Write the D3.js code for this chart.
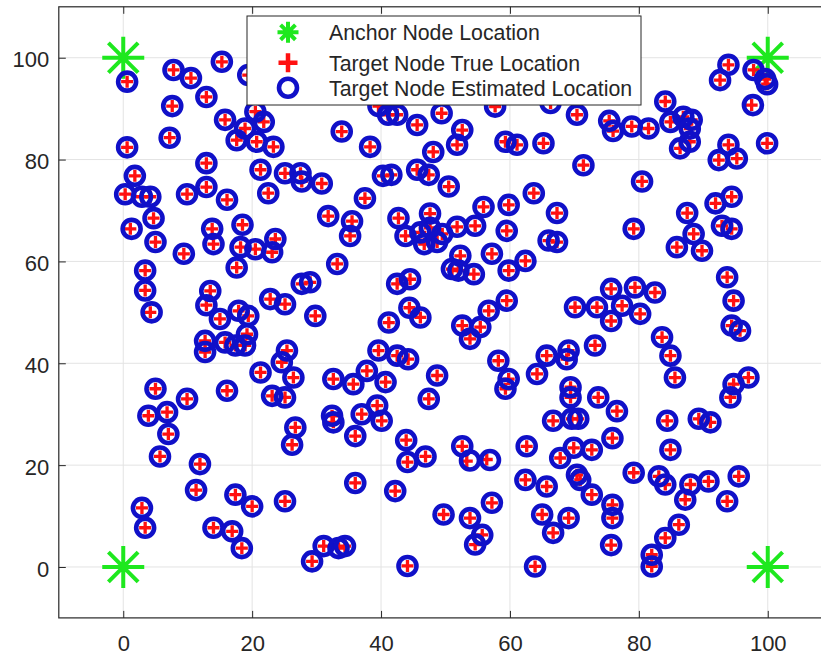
<!DOCTYPE html>
<html>
<head>
<meta charset="utf-8">
<script src="https://cdn.jsdelivr.net/npm/d3@7/dist/d3.min.js"></script>
<style>
  body { margin: 0; background: #fff; }
  svg { display: block; font-family: "Liberation Sans", Arial, Helvetica, sans-serif; }
</style>
</head>
<body>
<div id="chart"></div>
<script>
const width = 821;
const height = 657;

// anchor nodes
const anchors = [[0, 0], [0, 100], [100, 0], [100, 100]];

// target node true locations
const trueLoc = [
  [0.6,95.3],[7.8,97.6],[10.5,96],[7.6,90.5],[7.2,84.3],[0.6,82.4],[1.8,76.8],[0.3,73.2],[2.9,72.7],[4.2,72.7],
  [9.9,73.2],[4.7,68.5],[15.3,99.2],[19.4,96.6],[12.9,92.3],[15.8,87.8],[20.5,89.4],[21.8,87.4],[18.9,86.1],[17.6,83.8],
  [20.7,83.5],[23.3,82.5],[12.9,79.3],[21.3,78],[25.1,77.3],[27.5,77.3],[27.7,75.7],[30.8,75.3],[12.9,74.6],[16.1,72.1],
  [22.5,73.4],[37.5,72.4],[33.9,85.5],[38.3,82.5],[40.3,76.8],[41.6,77],[42.7,68.5],[31.8,68.9],[35.5,67.9],[35.2,65],
  [39.6,90.5],[41.1,88.8],[42.5,88.8],[45.6,86.8],[49.4,89.1],[52.6,85.8],[51.8,82.9],[48.1,81.5],[45.6,78],[47.4,77],
  [50.5,74.7],[59.3,83.5],[61.1,82.9],[65.2,83.2],[70.4,88.8],[75.4,87.6],[76,85.6],[71.4,78.9],[63.7,73.4],[55.9,70.7],
  [59.8,71.1],[67.3,69.5],[47.6,69.4],[57.7,90.4],[66.3,91.1],[93.9,98.6],[92.6,95.6],[97.8,97.6],[99.6,95.8],[99.9,94.8],
  [97.5,90.7],[84.1,91.4],[78.9,86.5],[81.5,86.1],[84.9,87.4],[86.9,88.4],[88.2,87.8],[87.9,86.1],[86.4,82.2],[87.9,83.5],
  [93.9,82.9],[92.4,79.9],[95.2,80.2],[99.9,83.2],[80.5,75.7],[91.9,71.4],[94.4,72.7],[1.1,66.4],[5,63.8],[9.4,61.5],
  [3.4,58.2],[3.4,54.3],[4.2,50],[12.7,44.4],[12.7,42.2],[13.5,54.2],[12.9,51.4],[5,35],[9.9,33],[3.9,29.7],
  [6.8,30.4],[7,26.1],[13.8,66.4],[18.5,67.2],[14,63.4],[18.2,62.8],[20.5,62.4],[23.6,64.4],[23.1,61.8],[17.6,58.8],
  [33.2,59.5],[27.7,55.6],[29,55.9],[22.8,52.6],[25.1,51.6],[29.8,49.3],[42.5,55.6],[44.5,56.5],[44.4,50.9],[41.2,48],
  [15,48.7],[17.9,50.3],[19.4,49.3],[19.2,45.7],[15.8,44.1],[17.4,43.5],[18.9,43.5],[25.4,42.5],[24.6,40.2],[21.3,38.2],
  [26.4,37.2],[23.1,33.6],[25.1,33.3],[16.1,34.6],[32.6,36.9],[35.7,35.9],[37.8,38.5],[39.6,42.5],[42.5,41.5],[44.2,40.8],
  [40.7,36.3],[26.7,27.4],[32.4,29.7],[32.6,28.4],[37,30],[39.4,31.7],[40.1,28.7],[36,25.7],[43.9,24.9],[43.8,65],
  [46.1,65.7],[47.6,66.6],[49.5,65.4],[46.7,63.4],[48.7,63.8],[51.8,66.8],[54.6,67],[59.5,66],[66,64.1],[67.3,63.8],
  [57.2,61.5],[52.3,61.1],[51,58.5],[52,58.2],[54.4,57.5],[59.8,58.2],[62.4,60.1],[46.1,49],[56.7,50.3],[59.5,52.3],
  [52.6,47.4],[55.4,47.1],[53.8,44.8],[58.2,40.5],[59.8,36.9],[59.3,35],[48.7,37.6],[47.4,33],[64.2,37.9],[65.7,41.5],
  [69.1,42.5],[68.8,40.8],[73.2,43.5],[70.1,51],[73.5,51],[69.4,35.3],[69.4,33.3],[73.7,33.3],[66.7,28.7],[69.6,29.1],
  [70.6,29.1],[79.2,66.4],[87.5,69.5],[88.5,65.4],[85.9,62.8],[89.8,62.1],[92.9,67],[94.4,66.4],[75.7,54.6],[79.4,54.9],
  [82.5,53.9],[77.4,51.3],[80.2,49.7],[75.7,48.3],[93.7,56.9],[94.7,52.3],[94.4,47.4],[95.7,46.4],[83.6,45.1],[84.9,41.5],
  [85.6,37.2],[97,37.2],[94.7,35.9],[94.2,33.3],[76.6,30.6],[84.4,28.7],[89.3,29.1],[91.1,28.4],[5.7,21.7],[2.9,11.6],
  [3.4,7.7],[11.9,20.2],[11.3,15.1],[17.4,14.2],[20,11.9],[25.1,12.9],[14,7.7],[16.9,7],[18.4,3.7],[26.2,24],
  [36,16.5],[42.2,14.9],[29.3,1.1],[31.1,4.1],[33.4,3.7],[34.4,4.1],[44.1,0.2],[44.1,20.6],[46.9,21.7],[52.6,23.7],
  [53.3,20.8],[56.4,21.1],[57.2,12.6],[49.7,10.3],[53.8,9.6],[55.7,6.3],[54.6,4.4],[63.9,0.1],[62.4,17.1],[65.7,15.8],
  [65,10.3],[69.1,9.6],[66.7,6.7],[62.6,23.7],[67.8,21.4],[69.9,23.4],[72.7,23],[70.4,18.1],[70.9,17.1],[72.7,14.2],
  [75.9,25.3],[75.9,12.2],[75.9,9.6],[75.7,4.3],[84.9,23],[79.2,18.5],[83.1,17.8],[84.1,16.2],[88,16.2],[87.2,13.2],
  [90.8,16.8],[95.5,17.8],[93.7,12.9],[86.2,8.3],[84.1,5.7],[82,2.4],[82,0.1]
];

// target node estimated locations
const estLoc = [
  [0.6,95.3],[7.8,97.6],[10.5,96],[7.6,90.5],[7.2,84.3],[0.6,82.4],[1.8,76.8],[0.3,73.2],[2.9,72.7],[4.2,72.7],
  [9.9,73.2],[4.7,68.5],[15.3,99.2],[19.4,96.6],[12.9,92.3],[15.8,87.8],[20.5,89.4],[21.8,87.4],[18.9,86.1],[17.6,83.8],
  [20.7,83.5],[23.3,82.5],[12.9,79.3],[21.3,78],[25.1,77.3],[27.5,77.3],[27.7,75.7],[30.8,75.3],[12.9,74.6],[16.1,72.1],
  [22.5,73.4],[37.5,72.4],[33.9,85.5],[38.3,82.5],[40.3,76.8],[41.6,77],[42.7,68.5],[31.8,68.9],[35.5,67.9],[35.2,65],
  [39.6,90.5],[41.1,88.8],[42.5,88.8],[45.6,86.8],[49.4,89.1],[52.6,85.8],[51.8,82.9],[48.1,81.5],[45.6,78],[47.4,77],
  [50.5,74.7],[59.3,83.5],[61.1,82.9],[65.2,83.2],[70.4,88.8],[75.4,87.6],[76,85.6],[71.4,78.9],[63.7,73.4],[55.9,70.7],
  [59.8,71.1],[67.3,69.5],[47.6,69.4],[57.7,90.4],[66.3,91.1],[93.9,98.6],[92.6,95.6],[97.8,97.6],[99.6,95.8],[99.9,94.8],
  [97.7,90.7],[84.1,91.4],[78.9,86.5],[81.5,86.1],[84.9,87.4],[86.9,88.4],[88.2,87.8],[87.9,86.1],[86.4,82.2],[87.9,83.5],
  [93.9,82.9],[92.4,79.9],[95.2,80.2],[99.9,83.2],[80.5,75.7],[91.9,71.4],[94.4,72.7],[1.3,66.4],[5,63.8],[9.4,61.5],
  [3.4,58.2],[3.4,54.3],[4.4,50],[12.7,44.4],[12.7,42.2],[13.5,54.2],[12.9,51.4],[5,35],[9.9,33],[3.9,29.7],
  [6.8,30.4],[7,26.1],[13.8,66.4],[18.5,67.2],[14,63.4],[18.2,62.8],[20.5,62.4],[23.6,64.4],[23.1,61.8],[17.6,58.8],
  [33.2,59.5],[27.7,55.6],[29,55.9],[22.8,52.6],[25.1,51.6],[29.8,49.3],[42.5,55.6],[44.5,56.5],[44.4,50.9],[41.2,48],
  [15,48.7],[17.9,50.3],[19.4,49.3],[19.2,45.7],[15.8,44.1],[17.4,43.5],[18.9,43.5],[25.4,42.5],[24.6,40.2],[21.3,38.2],
  [26.4,37.2],[23.1,33.6],[25.1,33.3],[16.1,34.6],[32.6,36.9],[35.7,35.9],[37.8,38.5],[39.6,42.5],[42.5,41.5],[44.2,40.8],
  [40.7,36.3],[26.7,27.4],[32.4,29.7],[32.6,28.4],[37,30],[39.4,31.7],[40.1,28.7],[36,25.7],[43.9,24.9],[43.8,65],
  [46.1,65.7],[47.6,66.6],[49.5,65.4],[46.7,63.4],[48.7,63.8],[51.8,66.8],[54.6,67],[59.5,66],[66,64.1],[67.3,63.8],
  [57.2,61.5],[52.3,61.1],[51,58.5],[52,58.2],[54.4,57.5],[59.8,58.2],[62.4,60.1],[46.1,49],[56.7,50.3],[59.5,52.3],
  [52.6,47.4],[55.4,47.1],[53.8,44.8],[58.2,40.5],[59.8,36.9],[59.3,35],[48.7,37.6],[47.4,33],[64.2,37.9],[65.7,41.5],
  [69.1,42.5],[68.8,40.8],[73.2,43.5],[70.1,51],[73.5,51],[69.4,35.3],[69.4,33.3],[73.7,33.3],[66.7,28.7],[69.6,29.1],
  [70.6,29.1],[79.2,66.4],[87.5,69.5],[88.5,65.4],[85.9,62.8],[89.8,62.1],[92.9,67],[94.4,66.4],[75.7,54.6],[79.4,54.9],
  [82.5,53.9],[77.4,51.3],[80.2,49.7],[75.7,48.3],[93.7,56.9],[94.7,52.3],[94.4,47.4],[95.7,46.4],[83.6,45.1],[84.9,41.5],
  [85.6,37.2],[97,37.2],[94.7,35.9],[94.2,33.3],[76.6,30.6],[84.4,28.7],[89.3,29.1],[91.1,28.4],[5.7,21.7],[2.9,11.6],
  [3.4,7.7],[11.9,20.2],[11.3,15.1],[17.4,14.2],[20,11.9],[25.1,12.9],[14,7.7],[16.9,7],[18.4,3.7],[26.2,24],
  [36,16.5],[42.2,14.9],[29.3,1.1],[31.1,4.1],[33.4,3.7],[34.4,4.1],[44.1,0.2],[44.1,20.6],[46.9,21.7],[52.6,23.7],
  [53.8,20.9],[56.9,21],[57.2,12.6],[49.7,10.3],[53.8,9.6],[55.7,6.3],[54.6,4.4],[63.9,0.1],[62.4,17.1],[65.7,15.8],
  [65,10.3],[69.1,9.6],[66.7,6.7],[62.6,23.7],[67.8,21.4],[69.9,23.4],[72.7,23],[70.4,18.1],[70.9,17.1],[72.7,14.2],
  [75.9,25.3],[75.9,12.2],[75.9,9.6],[75.7,4.3],[84.9,23],[79.2,18.5],[83.1,17.8],[84.1,16.2],[88,16.2],[87.2,13.2],
  [90.8,16.8],[95.5,17.8],[93.7,12.9],[86.2,8.3],[84.1,5.7],[82,2.4],[82,0.1]
];

const xTicks = [0, 20, 40, 60, 80, 100];
const yTicks = [0, 20, 40, 60, 80, 100];
const legendLabels = ['Anchor Node Location', 'Target Node True Location', 'Target Node Estimated Location'];

const axisColor = '#262626';
const gridColor = '#e3e3e3';
const green = '#1ee81e';
const red = '#ff1010';
const blue = '#1010c8';

// 画布
let svg = d3.select('#chart').append('svg')
  .attr('width', width)
  .attr('height', height);
svg.append('rect').attr('width', width).attr('height', height).attr('fill', '#fff');

// 比例尺 (right edge of the axes box falls outside the picture)
let x = d3.scaleLinear().domain([-10, 110]).range([58.8, 832.2]);
let y = d3.scaleLinear().domain([-10, 110]).range([617.9, 6.8]);

// 网格
let grid = svg.append('g');
grid.selectAll('line.gx').data(xTicks).join('line')
  .attr('x1', d => x(d)).attr('x2', d => x(d))
  .attr('y1', y(110)).attr('y2', y(-10))
  .attr('stroke', gridColor).attr('stroke-width', 1);
grid.selectAll('line.gy').data(yTicks).join('line')
  .attr('y1', d => y(d)).attr('y2', d => y(d))
  .attr('x1', x(-10)).attr('x2', x(110))
  .attr('stroke', gridColor).attr('stroke-width', 1);

// 坐标轴
let xAxis = svg.append('g')
  .attr('transform', `translate(0,${y(-10)})`)
  .call(d3.axisBottom(x).tickValues(xTicks).tickSizeInner(-7).tickSizeOuter(0).tickPadding(17));
let xTop = svg.append('g')
  .attr('transform', `translate(0,${y(110)})`)
  .call(d3.axisTop(x).tickValues(xTicks).tickSizeInner(-7).tickSizeOuter(0).tickFormat(''));
let yAxis = svg.append('g')
  .attr('transform', `translate(${x(-10)},0)`)
  .call(d3.axisLeft(y).tickValues(yTicks).tickSizeInner(-7).tickSizeOuter(0).tickPadding(9.5));

[xAxis, xTop, yAxis].forEach(g => {
  g.select('.domain').remove();
  g.selectAll('.tick line').attr('stroke', axisColor).attr('stroke-width', 1);
  g.selectAll('.tick text')
    .attr('fill', axisColor)
    .style('font-size', '22px')
    .style('font-family', '"Liberation Sans", Arial, Helvetica, sans-serif');
});
yAxis.selectAll('.tick text').attr('dy', '0.41em');

// 边框
svg.append('rect')
  .attr('x', x(-10)).attr('y', y(110))
  .attr('width', x(110) - x(-10)).attr('height', y(-10) - y(110))
  .attr('fill', 'none').attr('stroke', axisColor).attr('stroke-width', 1.2);

// 星号
function star(r) {
  const d = r * 0.707;
  return `M${-r},0L${r},0M0,${-r}L0,${r}M${-d},${-d}L${d},${d}M${-d},${d}L${d},${-d}`;
}
function plus(r) {
  return `M${-r},0L${r},0M0,${-r}L0,${r}`;
}

// anchors
svg.append('g').selectAll('path').data(anchors).join('path')
  .attr('transform', d => `translate(${x(d[0])},${y(d[1])})`)
  .attr('d', star(21))
  .attr('stroke', green).attr('stroke-width', 4).attr('fill', 'none');

// true locations
svg.append('g').selectAll('path').data(trueLoc).join('path')
  .attr('transform', d => `translate(${x(d[0])},${y(d[1])})`)
  .attr('d', plus(6))
  .attr('stroke', red).attr('stroke-width', 3.3).attr('fill', 'none');

// estimated locations
svg.append('g').selectAll('circle').data(estLoc).join('circle')
  .attr('cx', d => x(d[0])).attr('cy', d => y(d[1]))
  .attr('r', 9)
  .attr('stroke', blue).attr('stroke-width', 4.6).attr('fill', 'none');

// 图例
let legend = svg.append('g');
legend.append('rect')
  .attr('x', 247).attr('y', 16).attr('width', 394).attr('height', 89)
  .attr('fill', '#fff').attr('stroke', axisColor).attr('stroke-width', 1);

let rows = [32.3, 62.7, 87.7];
legend.append('path')
  .attr('transform', `translate(288,${rows[0]})`)
  .attr('d', star(10.5))
  .attr('stroke', green).attr('stroke-width', 4).attr('fill', 'none');
legend.append('path')
  .attr('transform', `translate(288,${rows[1]})`)
  .attr('d', plus(9.5))
  .attr('stroke', red).attr('stroke-width', 4.5).attr('fill', 'none');
legend.append('circle')
  .attr('cx', 288).attr('cy', rows[2]).attr('r', 9)
  .attr('stroke', blue).attr('stroke-width', 4.6).attr('fill', 'none');

legend.selectAll('text').data(legendLabels).join('text')
  .text(d => d)
  .attr('x', 329)
  .attr('y', (d, i) => rows[i] + 8)
  .attr('fill', axisColor)
  .style('font-size', '21.3px');
</script>
</body>
</html>
